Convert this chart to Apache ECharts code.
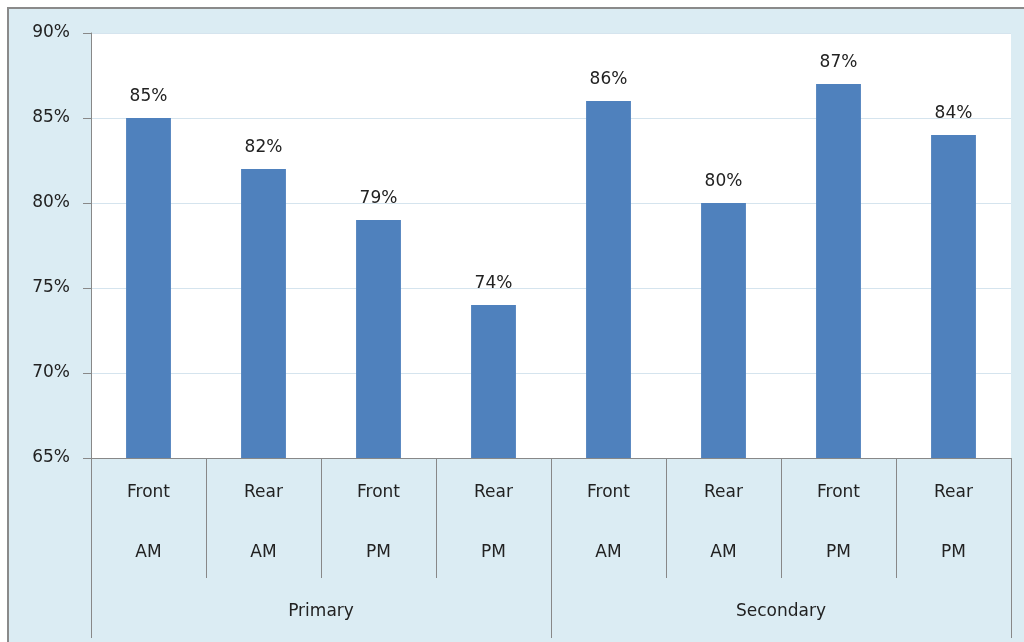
<!DOCTYPE html>
<html>
<head>
<meta charset="utf-8">
<script src="https://cdn.jsdelivr.net/npm/echarts@6/dist/echarts.min.js"></script>
<style>
html, body { margin:0; padding:0; background:#fff; }
#chart { width:1024px; height:642px; }
</style>
</head>
<body>
<div id="chart"></div>
<script>
// data
var positions = ['Front', 'Rear', 'Front', 'Rear', 'Front', 'Rear', 'Front', 'Rear'];
var sessions = ['AM', 'AM', 'PM', 'PM', 'AM', 'AM', 'PM', 'PM'];
var groups = ['Primary', 'Secondary'];
var values = [85, 82, 79, 74, 86, 80, 87, 84];

var font = '"DejaVu Sans", "Open Sans", sans-serif';
var lineGray = '#888888';
var textColor = '#222222';

var cats = [];
for (var i = 0; i < positions.length; i++) {
	cats.push(positions[i] + '\n' + sessions[i]);
}

var chart = echarts.init(document.getElementById('chart'));
var option = {
	backgroundColor: '#ffffff',
	animation: false,
	graphic: [{
		type: 'rect',
		z: -10,
		shape: {x: 8, y: 8, width: 1030, height: 650},
		style: {fill: '#dbecf3', stroke: '#8a8a8a', lineWidth: 2}
	}],
	grid: {
		left: 91, right: 13, top: 33, bottom: 184,
		show: true, backgroundColor: '#ffffff', borderWidth: 0
	},
	xAxis: [{
		type: 'category',
		data: cats,
		axisLine: {lineStyle: {color: lineGray, width: 1}},
		axisTick: {show: true, interval: 0, length: 120, lineStyle: {color: lineGray}},
		axisLabel: {
			interval: 0, margin: 5, lineHeight: 60,
			color: textColor, fontSize: 17, fontFamily: font
		}
	}, {
		type: 'category',
		position: 'bottom',
		data: groups,
		axisLine: {show: false},
		axisTick: {show: true, interval: 0, length: 180, lineStyle: {color: lineGray}},
		axisLabel: {
			interval: 0, margin: 145,
			color: textColor, fontSize: 17, fontFamily: font
		}
	}],
	yAxis: {
		type: 'value',
		min: 65, max: 90, interval: 5,
		axisLine: {show: true, lineStyle: {color: lineGray}},
		axisTick: {show: true, length: 8, lineStyle: {color: lineGray}},
		axisLabel: {
			formatter: '{value}%', margin: 21,
			color: textColor, fontSize: 17, fontFamily: font
		},
		splitLine: {lineStyle: {color: '#d5e4ee', width: 1}}
	},
	series: [{
		type: 'bar',
		data: values,
		barWidth: '39%',
		itemStyle: {color: '#4f81bd'},
		label: {
			show: true, position: 'top', distance: 13,
			formatter: '{c}%',
			color: textColor, fontSize: 17, fontFamily: font
		}
	}]
};
chart.setOption(option);
</script>
</body>
</html>
